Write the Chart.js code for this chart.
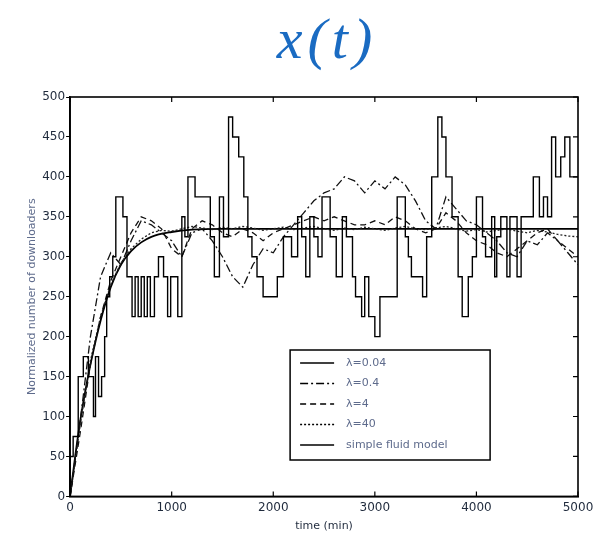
<!DOCTYPE html>
<html>
<head>
<meta charset="utf-8">
<script src="https://cdn.jsdelivr.net/npm/chart.js@4"></script>
<style>
  body { margin: 0; background: #fff; }
  #wrap { position: relative; width: 611px; height: 538px; }
  #title {
    position: absolute; left: 0; top: 6px; width: 654px; text-align: center;
    font: italic 58px/66px "Liberation Serif", serif; color: #1a6bc2; letter-spacing: 5px;
  }
</style>
</head>
<body>
<div id="wrap">
<canvas id="chart" width="611" height="538"></canvas>
<div id="title">x(t)</div>
</div>
<script>
// time grid (min) for the smoother simulated runs
var times = [0,100,200,300,400,500,600,700,800,900,1000,1100,1200,1300,1400,1500,1600,1700,1800,1900,2000,
  2100,2200,2300,2400,2500,2600,2700,2800,2900,3000,3100,3200,3300,3400,3500,3600,3700,3800,3900,4000,
  4100,4200,4300,4400,4500,4600,4700,4800,4900,5000];

// lambda = 0.4 (dash-dot)
var lambda04 = [0,95,200,275,305,290,320,345,340,330,320,300,330,335,320,300,275,262,290,310,305,
  325,340,355,370,380,385,400,395,380,395,385,400,390,370,345,335,375,360,345,340,
  330,320,305,300,320,315,330,320,305,290];

// lambda = 4 (dashed)
var lambda4 = [0,80,165,225,270,300,330,350,345,335,310,300,335,345,340,330,325,335,330,320,330,
  335,340,345,350,345,350,345,340,340,345,340,350,345,335,330,335,355,345,330,320,
  315,305,300,310,320,330,335,320,310,300];

// lambda = 40 (dotted)
var lambda40 = [0,90,170,225,265,292,310,322,330,333,332,335,338,336,334,337,335,338,336,333,335,
  337,334,336,338,335,333,336,334,337,335,333,336,338,335,334,336,338,335,332,334,
  331,333,335,332,330,333,331,328,326,325];

// lambda = 0.04 (solid, step-like) : change times and held values
var stepTimes = [0,30,80,130,180,230,250,280,310,340,360,390,420,450,520,560,610,640,670,700,730,760,790,830,870,
  920,960,990,1060,1100,1130,1160,1230,1380,1420,1470,1510,1560,1600,1660,1710,1750,1790,1840,1900,2040,2100,
  2180,2240,2280,2320,2360,2400,2440,2480,2560,2620,2680,2720,2780,2810,2870,2900,2940,3000,3050,3220,3300,
  3330,3360,3470,3510,3560,3620,3660,3700,3760,3820,3860,3920,3960,4000,4060,4090,4150,4180,4200,4240,4300,
  4330,4400,4440,4560,4620,4660,4700,4740,4780,4830,4870,4920,4960,5000];
var stepValues = [0,50,75,150,175,150,100,175,125,150,200,250,275,300,375,350,275,225,275,225,275,225,275,225,275,
  300,275,225,275,225,350,325,400,375,325,275,375,325,475,450,425,375,325,300,275,250,275,
  325,300,350,325,275,350,325,300,375,325,275,350,325,275,250,225,275,225,200,250,375,
  325,300,275,250,325,400,475,450,400,350,275,225,275,300,375,325,300,350,275,325,350,
  275,350,275,350,400,350,375,350,450,400,425,450,400,400];

// simple fluid model
var fluidTimes = [0,50,100,150,200,300,400,500,600,700,800,1000,1200,1500,2000,5000];
var fluidValues = [0,50,95,132,165,220,262,290,307,318,325,331,334,335,335,335];

var xTicks = [0,1000,2000,3000,4000,5000];
var yTicks = [0,50,100,150,200,250,300,350,400,450,500];

function pts(xs, ys) {
  return xs.map(function (x, i) { return { x: x, y: ys[i] }; });
}

var labelColor = '#1f2a3c';
var softColor = '#5e6b8c';

// frame + inward ticks on the other sides
var framePlugin = {
  id: 'frame',
  afterDraw: function (chart) {
    var ctx = chart.ctx, a = chart.chartArea;
    var sx = chart.scales.x, sy = chart.scales.y;
    ctx.save();
    ctx.strokeStyle = '#000';
    ctx.lineWidth = 1.6;
    ctx.strokeRect(a.left, a.top, a.right - a.left, a.bottom - a.top);
    ctx.lineWidth = 1.2;
    ctx.beginPath();
    xTicks.forEach(function (v) {
      var px = sx.getPixelForValue(v);
      ctx.moveTo(px, a.bottom); ctx.lineTo(px, a.bottom - 5);
      ctx.moveTo(px, a.top); ctx.lineTo(px, a.top + 5);
    });
    yTicks.forEach(function (v) {
      var py = sy.getPixelForValue(v);
      ctx.moveTo(a.right, py); ctx.lineTo(a.right - 5, py);
    });
    ctx.stroke();
    ctx.restore();
  }
};

// boxed legend inside the plot, like the original
var boxLegend = {
  id: 'boxLegend',
  afterDraw: function (chart) {
    var ctx = chart.ctx, a = chart.chartArea;
    var x0 = a.left + 220, y0 = a.top + 253, w = 200, h = 110;
    ctx.save();
    ctx.fillStyle = '#fff';
    ctx.fillRect(x0, y0, w, h);
    ctx.strokeStyle = '#000';
    ctx.lineWidth = 1.5;
    ctx.strokeRect(x0, y0, w, h);
    ctx.font = '11px "DejaVu Sans"';
    ctx.textBaseline = 'middle';
    chart.data.datasets.forEach(function (ds, i) {
      var y = y0 + 13 + i * 20.5;
      ctx.strokeStyle = '#000';
      ctx.lineWidth = 1.6;
      ctx.setLineDash(ds.borderDash || []);
      ctx.beginPath();
      ctx.moveTo(x0 + 10, y); ctx.lineTo(x0 + 44, y);
      ctx.stroke();
      ctx.setLineDash([]);
      ctx.fillStyle = softColor;
      ctx.fillText(ds.label, x0 + 56, y);
    });
    ctx.restore();
  }
};

function plain(v) { return String(v); }

new Chart(document.getElementById('chart').getContext('2d'), {
  type: 'line',
  data: {
    datasets: [
      { label: 'λ=0.04', data: pts(stepTimes, stepValues), stepped: 'after', borderColor: '#000', borderWidth: 1.4 },
      { label: 'λ=0.4', data: pts(times, lambda04), borderColor: '#111', borderWidth: 1.3, borderDash: [8, 3, 2, 3] },
      { label: 'λ=4', data: pts(times, lambda4), borderColor: '#111', borderWidth: 1.3, borderDash: [6, 4] },
      { label: 'λ=40', data: pts(times, lambda40), borderColor: '#222', borderWidth: 1.3, borderDash: [2, 2] },
      { label: 'simple fluid model', data: pts(fluidTimes, fluidValues), borderColor: '#000', borderWidth: 1.8, cubicInterpolationMode: 'monotone' }
    ]
  },
  options: {
    responsive: false,
    animation: false,
    elements: { point: { radius: 0 }, line: { tension: 0 } },
    layout: { padding: { left: 26, right: 33, top: 97, bottom: 5 } },
    plugins: {
      legend: { display: false },
      tooltip: { enabled: false }
    },
    scales: {
      x: {
        type: 'linear', min: 0, max: 5000,
        afterBuildTicks: function (s) { s.ticks = xTicks.map(function (v) { return { value: v }; }); },
        ticks: { color: labelColor, font: { size: 12, family: '"DejaVu Sans"' }, padding: 4, maxRotation: 0, callback: plain },
        grid: { drawOnChartArea: false, drawTicks: false },
        border: { color: '#000', width: 1.6 },
        title: { display: true, text: 'time (min)', color: labelColor, font: { size: 11, family: '"DejaVu Sans"' }, padding: { top: 1, bottom: 0 } }
      },
      y: {
        min: 0, max: 500,
        afterBuildTicks: function (s) { s.ticks = yTicks.map(function (v) { return { value: v }; }); },
        ticks: { color: labelColor, font: { size: 12, family: '"DejaVu Sans"' }, padding: 1, callback: plain },
        grid: { drawOnChartArea: false, drawTicks: true, tickLength: 4, color: '#000' },
        border: { color: '#000', width: 1.6 },
        title: { display: true, text: 'Normalized number of downloaders', color: softColor, font: { size: 11, family: '"DejaVu Sans"' }, padding: { top: 0, bottom: 2 } }
      }
    }
  },
  plugins: [framePlugin, boxLegend]
});
</script>
</body>
</html>
